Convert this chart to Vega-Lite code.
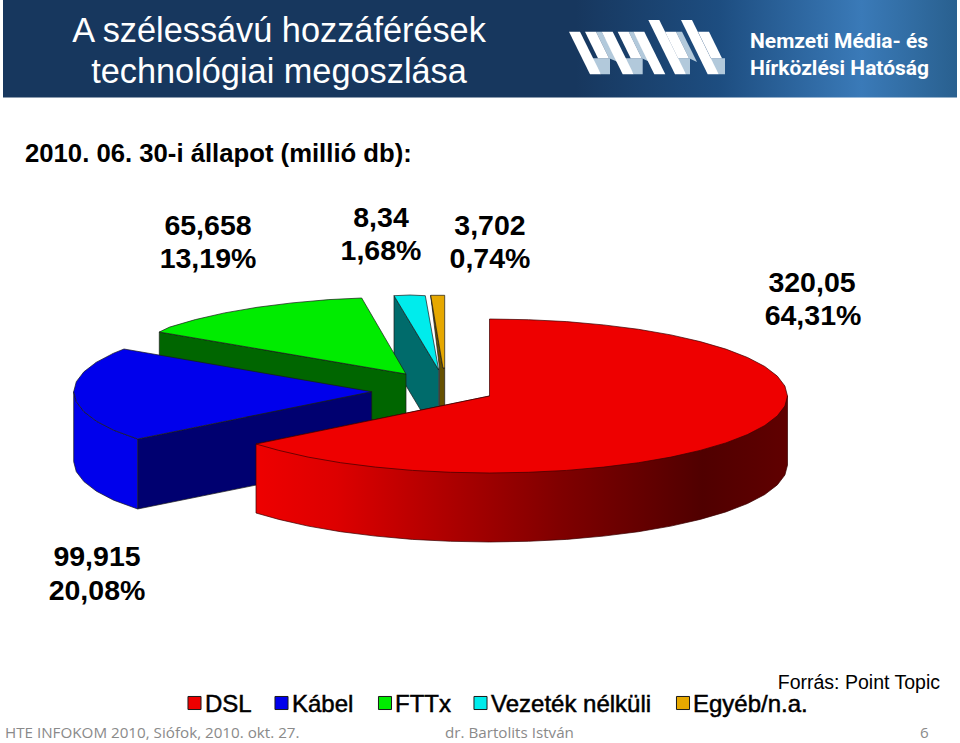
{"$schema":"https://vega.github.io/schema/vega-lite/v6.json","width":960,"height":743,"padding":0,"autosize":"none","background":"#ffffff","view":{"stroke":null},
"resolve":{"scale":{"fill":"independent"}},
"datasets":{
"band":[{"x":3,"x2":957,"y":0,"y2":97.5}],
"labels":[
{"kind":"title","label":"A szélessávú hozzáférések","x":279,"y":41.5},
{"kind":"title","label":"technológiai megoszlása","x":279,"y":83},
{"kind":"date","label":"2010. 06. 30-i állapot (millió db):","x":25,"y":162},
{"kind":"value","label":"65,658","x":208,"y":235},{"kind":"value","label":"13,19%","x":208,"y":268},
{"kind":"value","label":"8,34","x":381,"y":227},{"kind":"value","label":"1,68%","x":381,"y":260},
{"kind":"value","label":"3,702","x":490,"y":235},{"kind":"value","label":"0,74%","x":490,"y":268},
{"kind":"value","label":"320,05","x":812,"y":292},{"kind":"value","label":"64,31%","x":813,"y":325},
{"kind":"value","label":"99,915","x":97,"y":566},{"kind":"value","label":"20,08%","x":97,"y":600},
{"kind":"legend","label":"DSL","x":205,"y":712},{"kind":"legend","label":"Kábel","x":292,"y":712},{"kind":"legend","label":"FTTx","x":395,"y":712},{"kind":"legend","label":"Vezeték nélküli","x":491,"y":712},{"kind":"legend","label":"Egyéb/n.a.","x":693,"y":712},
{"kind":"source","label":"Forrás: Point Topic","x":940,"y":689},
{"kind":"foot","label":"HTE INFOKOM 2010, Siófok, 2010. okt. 27.","x":5,"y":738},
{"kind":"foot","label":"dr. Bartolits István","x":445,"y":738},
{"kind":"foot","label":"6","x":920,"y":738},
{"kind":"org","label":"Nemzeti Média- és","x":750,"y":48},
{"kind":"org","label":"Hírközlési Hatóság","x":750,"y":75}
],
"keys":[{"part":"DSL","x":194.5,"y":703},{"part":"Kábel","x":281.5,"y":703},{"part":"FTTx","x":385,"y":703},{"part":"Vezeték nélküli","x":480.5,"y":703},{"part":"Egyéb/n.a.","x":683,"y":703}],
"logo":[
{"shape":"a1","part":"árnyék","i":0,"x":590,"y":58.3},{"shape":"a1","part":"árnyék","i":1,"x":610,"y":58.3},{"shape":"a1","part":"árnyék","i":2,"x":610,"y":74.3},{"shape":"a1","part":"árnyék","i":3,"x":601,"y":74.3},
{"shape":"a2","part":"árnyék","i":0,"x":622.7,"y":58.3},{"shape":"a2","part":"árnyék","i":1,"x":642.7,"y":58.3},{"shape":"a2","part":"árnyék","i":2,"x":642.7,"y":74.3},{"shape":"a2","part":"árnyék","i":3,"x":633.7,"y":74.3},
{"shape":"a3","part":"árnyék","i":0,"x":668,"y":58.3},{"shape":"a3","part":"árnyék","i":1,"x":690,"y":58.3},{"shape":"a3","part":"árnyék","i":2,"x":690,"y":74.3},{"shape":"a3","part":"árnyék","i":3,"x":686,"y":74.3},
{"shape":"a4","part":"árnyék","i":0,"x":700,"y":58.3},{"shape":"a4","part":"árnyék","i":1,"x":725,"y":58.3},{"shape":"a4","part":"árnyék","i":2,"x":725,"y":74.3},{"shape":"a4","part":"árnyék","i":3,"x":718.7,"y":74.3},
{"shape":"b1","part":"árnyék","i":0,"x":596,"y":31.7},{"shape":"b1","part":"árnyék","i":1,"x":601.7,"y":31.7},{"shape":"b1","part":"árnyék","i":2,"x":618,"y":62},{"shape":"b1","part":"árnyék","i":3,"x":609,"y":58.3},
{"shape":"b2","part":"árnyék","i":0,"x":628.7,"y":31.7},{"shape":"b2","part":"árnyék","i":1,"x":633.3,"y":31.7},{"shape":"b2","part":"árnyék","i":2,"x":650,"y":62},{"shape":"b2","part":"árnyék","i":3,"x":641.7,"y":58.3},
{"shape":"b3","part":"árnyék","i":0,"x":676,"y":31.7},{"shape":"b3","part":"árnyék","i":1,"x":682,"y":31.7},{"shape":"b3","part":"árnyék","i":2,"x":697,"y":62},{"shape":"b3","part":"árnyék","i":3,"x":689,"y":58.3},
{"shape":"s1","part":"fehér","i":0,"x":569,"y":31.7},{"shape":"s1","part":"fehér","i":1,"x":580,"y":31.7},{"shape":"s1","part":"fehér","i":2,"x":601,"y":74.3},{"shape":"s1","part":"fehér","i":3,"x":590,"y":74.3},
{"shape":"s2","part":"fehér","i":0,"x":601.7,"y":31.7},{"shape":"s2","part":"fehér","i":1,"x":612.7,"y":31.7},{"shape":"s2","part":"fehér","i":2,"x":633.7,"y":74.3},{"shape":"s2","part":"fehér","i":3,"x":622.7,"y":74.3},
{"shape":"s3","part":"fehér","i":0,"x":633.3,"y":31.7},{"shape":"s3","part":"fehér","i":1,"x":644.3,"y":31.7},{"shape":"s3","part":"fehér","i":2,"x":665.3,"y":74.3},{"shape":"s3","part":"fehér","i":3,"x":654.3,"y":74.3},
{"shape":"s4","part":"fehér","i":0,"x":648.3,"y":20},{"shape":"s4","part":"fehér","i":1,"x":659.3,"y":20},{"shape":"s4","part":"fehér","i":2,"x":686,"y":74.3},{"shape":"s4","part":"fehér","i":3,"x":675,"y":74.3},
{"shape":"s5","part":"fehér","i":0,"x":681,"y":20},{"shape":"s5","part":"fehér","i":1,"x":692,"y":20},{"shape":"s5","part":"fehér","i":2,"x":718.7,"y":74.3},{"shape":"s5","part":"fehér","i":3,"x":707.7,"y":74.3},
{"shape":"w1","part":"fehér","i":0,"x":585,"y":31.7},{"shape":"w1","part":"fehér","i":1,"x":596,"y":31.7},{"shape":"w1","part":"fehér","i":2,"x":609,"y":58.3},{"shape":"w1","part":"fehér","i":3,"x":598,"y":58.3},
{"shape":"w2","part":"fehér","i":0,"x":617.7,"y":31.7},{"shape":"w2","part":"fehér","i":1,"x":628.7,"y":31.7},{"shape":"w2","part":"fehér","i":2,"x":641.7,"y":58.3},{"shape":"w2","part":"fehér","i":3,"x":630.7,"y":58.3},
{"shape":"w3","part":"fehér","i":0,"x":665,"y":31.7},{"shape":"w3","part":"fehér","i":1,"x":676,"y":31.7},{"shape":"w3","part":"fehér","i":2,"x":689,"y":58.3},{"shape":"w3","part":"fehér","i":3,"x":678,"y":58.3},
{"shape":"w4","part":"fehér","i":0,"x":698,"y":31.7},{"shape":"w4","part":"fehér","i":1,"x":709,"y":31.7},{"shape":"w4","part":"fehér","i":2,"x":722,"y":58.3},{"shape":"w4","part":"fehér","i":3,"x":711,"y":58.3}
],
"pie":[
{"shape":"c-side","part":"Vezeték nélküli oldal","i":0,"x":394,"y":295.7},{"shape":"c-side","part":"Vezeték nélküli oldal","i":1,"x":438.7,"y":370},{"shape":"c-side","part":"Vezeték nélküli oldal","i":2,"x":438.7,"y":440},{"shape":"c-side","part":"Vezeték nélküli oldal","i":3,"x":394,"y":365.7},{"shape":"c-side","part":"Vezeték nélküli oldal","i":4,"x":394,"y":295.7},
{"shape":"c-top","part":"Vezeték nélküli","i":0,"x":394,"y":295.7},{"shape":"c-top","part":"Vezeték nélküli","i":1,"x":410,"y":295},{"shape":"c-top","part":"Vezeték nélküli","i":2,"x":425.3,"y":295.7},{"shape":"c-top","part":"Vezeték nélküli","i":3,"x":438.7,"y":370},{"shape":"c-top","part":"Vezeték nélküli","i":4,"x":394,"y":295.7},
{"shape":"o-side","part":"Egyéb/n.a. oldal","i":0,"x":430.7,"y":295.3},{"shape":"o-side","part":"Egyéb/n.a. oldal","i":1,"x":443,"y":368},{"shape":"o-side","part":"Egyéb/n.a. oldal","i":2,"x":444.7,"y":368},{"shape":"o-side","part":"Egyéb/n.a. oldal","i":3,"x":444.7,"y":420},{"shape":"o-side","part":"Egyéb/n.a. oldal","i":4,"x":439.5,"y":420},{"shape":"o-side","part":"Egyéb/n.a. oldal","i":5,"x":439.5,"y":368},{"shape":"o-side","part":"Egyéb/n.a. oldal","i":6,"x":430.7,"y":295.3},
{"shape":"o-top","part":"Egyéb/n.a.","i":0,"x":430.7,"y":295.3},{"shape":"o-top","part":"Egyéb/n.a.","i":1,"x":444.7,"y":295.3},{"shape":"o-top","part":"Egyéb/n.a.","i":2,"x":444.7,"y":368},{"shape":"o-top","part":"Egyéb/n.a.","i":3,"x":443,"y":368},{"shape":"o-top","part":"Egyéb/n.a.","i":4,"x":430.7,"y":295.3},
{"shape":"g-side","part":"FTTx oldal","i":0,"x":159.3,"y":332},{"shape":"g-side","part":"FTTx oldal","i":1,"x":406,"y":374},{"shape":"g-side","part":"FTTx oldal","i":2,"x":406,"y":444},{"shape":"g-side","part":"FTTx oldal","i":3,"x":159.3,"y":402},{"shape":"g-side","part":"FTTx oldal","i":4,"x":159.3,"y":332},
{"shape":"g-top","part":"FTTx","i":0,"x":406,"y":374},{"shape":"g-top","part":"FTTx","i":1,"x":159.3,"y":332},{"shape":"g-top","part":"FTTx","i":2,"x":169.6,"y":327.1},{"shape":"g-top","part":"FTTx","i":3,"x":195.3,"y":319.6},{"shape":"g-top","part":"FTTx","i":4,"x":224.6,"y":312.9},{"shape":"g-top","part":"FTTx","i":5,"x":257,"y":307.3},{"shape":"g-top","part":"FTTx","i":6,"x":292,"y":302.9},{"shape":"g-top","part":"FTTx","i":7,"x":328.9,"y":299.6},{"shape":"g-top","part":"FTTx","i":8,"x":361.7,"y":298},{"shape":"g-top","part":"FTTx","i":9,"x":406,"y":374},
{"shape":"b-side","part":"Kábel oldal","i":0,"x":137.7,"y":439},{"shape":"b-side","part":"Kábel oldal","i":1,"x":371.7,"y":391.7},{"shape":"b-side","part":"Kábel oldal","i":2,"x":371.7,"y":461.7},{"shape":"b-side","part":"Kábel oldal","i":3,"x":137.7,"y":509},{"shape":"b-side","part":"Kábel oldal","i":4,"x":137.7,"y":439},
{"shape":"b-rim","part":"Kábel","i":0,"x":73.7,"y":391.7},{"shape":"b-rim","part":"Kábel","i":1,"x":73.7,"y":461.7},{"shape":"b-rim","part":"Kábel","i":2,"x":76.3,"y":471.7},{"shape":"b-rim","part":"Kábel","i":3,"x":83.9,"y":481.6},{"shape":"b-rim","part":"Kábel","i":4,"x":96.4,"y":491.2},{"shape":"b-rim","part":"Kábel","i":5,"x":113.6,"y":500.2},{"shape":"b-rim","part":"Kábel","i":6,"x":137.7,"y":509},{"shape":"b-rim","part":"Kábel","i":7,"x":137.7,"y":439},{"shape":"b-rim","part":"Kábel","i":8,"x":113.6,"y":430.2},{"shape":"b-rim","part":"Kábel","i":9,"x":96.4,"y":421.2},{"shape":"b-rim","part":"Kábel","i":10,"x":83.9,"y":411.6},{"shape":"b-rim","part":"Kábel","i":11,"x":76.3,"y":401.7},{"shape":"b-rim","part":"Kábel","i":12,"x":73.7,"y":391.7},
{"shape":"b-top","part":"Kábel","i":0,"x":371.7,"y":391.7},{"shape":"b-top","part":"Kábel","i":1,"x":137.7,"y":439},{"shape":"b-top","part":"Kábel","i":2,"x":113.6,"y":430.2},{"shape":"b-top","part":"Kábel","i":3,"x":96.4,"y":421.2},{"shape":"b-top","part":"Kábel","i":4,"x":83.9,"y":411.6},{"shape":"b-top","part":"Kábel","i":5,"x":76.3,"y":401.7},{"shape":"b-top","part":"Kábel","i":6,"x":73.7,"y":391.7},{"shape":"b-top","part":"Kábel","i":7,"x":76.3,"y":381.7},{"shape":"b-top","part":"Kábel","i":8,"x":83.9,"y":371.8},{"shape":"b-top","part":"Kábel","i":9,"x":96.4,"y":362.2},{"shape":"b-top","part":"Kábel","i":10,"x":113.6,"y":353.2},{"shape":"b-top","part":"Kábel","i":11,"x":124,"y":349},{"shape":"b-top","part":"Kábel","i":12,"x":371.7,"y":391.7}
],
"redside":[
{"i":0,"x":787.5,"y":396},{"i":1,"x":787.5,"y":465},{"i":2,"x":784.9,"y":475},{"i":3,"x":777.3,"y":484.9},{"i":4,"x":764.8,"y":494.5},{"i":5,"x":747.6,"y":503.5},{"i":6,"x":725.9,"y":511.9},{"i":7,"x":700.2,"y":519.4},{"i":8,"x":670.9,"y":526.1},{"i":9,"x":638.5,"y":531.7},{"i":10,"x":603.5,"y":536.1},{"i":11,"x":566.6,"y":539.4},{"i":12,"x":528.4,"y":541.3},{"i":13,"x":489.5,"y":542},{"i":14,"x":450.6,"y":541.3},{"i":15,"x":412.4,"y":539.4},{"i":16,"x":375.5,"y":536.1},{"i":17,"x":340.5,"y":531.7},{"i":18,"x":308.1,"y":526.1},{"i":19,"x":278.8,"y":519.4},{"i":20,"x":256,"y":513},{"i":21,"x":256,"y":444},{"i":22,"x":489.5,"y":396},{"i":23,"x":787.5,"y":396}
],
"redtop":[
{"i":0,"x":489.5,"y":396},{"i":1,"x":489.5,"y":319},{"i":2,"x":528.4,"y":319.7},{"i":3,"x":566.6,"y":321.6},{"i":4,"x":603.5,"y":324.9},{"i":5,"x":638.5,"y":329.3},{"i":6,"x":670.9,"y":334.9},{"i":7,"x":700.2,"y":341.6},{"i":8,"x":725.9,"y":349.1},{"i":9,"x":747.6,"y":357.5},{"i":10,"x":764.8,"y":366.5},{"i":11,"x":777.3,"y":376.1},{"i":12,"x":784.9,"y":386},{"i":13,"x":787.5,"y":396},{"i":14,"x":784.9,"y":406},{"i":15,"x":777.3,"y":415.9},{"i":16,"x":764.8,"y":425.5},{"i":17,"x":747.6,"y":434.5},{"i":18,"x":725.9,"y":442.9},{"i":19,"x":700.2,"y":450.4},{"i":20,"x":670.9,"y":457.1},{"i":21,"x":638.5,"y":462.7},{"i":22,"x":603.5,"y":467.1},{"i":23,"x":566.6,"y":470.4},{"i":24,"x":528.4,"y":472.3},{"i":25,"x":489.5,"y":473},{"i":26,"x":450.6,"y":472.3},{"i":27,"x":412.4,"y":470.4},{"i":28,"x":375.5,"y":467.1},{"i":29,"x":340.5,"y":462.7},{"i":30,"x":308.1,"y":457.1},{"i":31,"x":278.8,"y":450.4},{"i":32,"x":256,"y":444},{"i":33,"x":489.5,"y":396}
]
},
"encoding":{"x":{"field":"x","type":"quantitative","axis":null,"scale":{"domain":[0,960],"nice":false,"zero":false}},"y":{"field":"y","type":"quantitative","axis":null,"scale":{"domain":[743,0],"nice":false,"zero":false}}},
"layer":[
{"data":{"name":"band"},"mark":{"type":"rect","fill":{"gradient":"linear","x1":0,"x2":1,"y1":0,"y2":0,"stops":[{"offset":0,"color":"#17375e"},{"offset":0.6,"color":"#17375e"},{"offset":0.75,"color":"#1d4d80"},{"offset":0.9,"color":"#3a7ab8"},{"offset":1,"color":"#29608f"}]}},"encoding":{"x2":{"field":"x2"},"y2":{"field":"y2"}}},
{"data":{"name":"logo"},"mark":{"type":"line","strokeWidth":0},"encoding":{"order":{"field":"i"},"detail":{"field":"shape"},"fill":{"field":"part","legend":null,"scale":{"domain":["fehér","árnyék"],"range":["#ffffff","#b2c9db"]}}}},
{"data":{"name":"pie"},"mark":{"type":"line","stroke":"#1a1a1a","strokeWidth":0.7,"strokeJoin":"round"},"encoding":{"order":{"field":"i"},"detail":{"field":"shape"},"fill":{"field":"part","legend":null,"scale":{"domain":["Kábel","Kábel oldal","FTTx","FTTx oldal","Vezeték nélküli","Vezeték nélküli oldal","Egyéb/n.a.","Egyéb/n.a. oldal"],"range":["#0000ec","#000070","#00ec00","#006600","#00ecec","#006b6b","#e6a800","#665000"]}}}},
{"data":{"name":"redside"},"mark":{"type":"line","stroke":"#3a0000","strokeWidth":0.7,"fill":{"gradient":"linear","x1":0,"x2":1,"y1":0,"y2":0,"stops":[{"offset":0,"color":"#ee0000"},{"offset":0.15,"color":"#dd0000"},{"offset":0.35,"color":"#b00000"},{"offset":0.57,"color":"#800000"},{"offset":0.84,"color":"#500000"},{"offset":1,"color":"#600000"}]}},"encoding":{"order":{"field":"i"}}},
{"data":{"name":"redtop"},"mark":{"type":"line","stroke":"#3a0000","strokeWidth":0.7,"fill":"#ee0000"},"encoding":{"order":{"field":"i"}}},
{"data":{"name":"keys"},"mark":{"type":"point","shape":"square","filled":true,"size":170,"stroke":"#1a1a1a","strokeWidth":1,"opacity":1},"encoding":{"fill":{"field":"part","legend":null,"scale":{"domain":["DSL","Kábel","FTTx","Vezeték nélküli","Egyéb/n.a."],"range":["#ee0000","#0000ec","#00ec00","#00ecec","#e6a800"]}}}},
{"data":{"name":"labels"},"transform":[{"filter":"datum.kind=='title'"}],"mark":{"type":"text","font":"Liberation Sans","fontSize":34.3,"fill":"#ffffff","align":"center","baseline":"alphabetic"},"encoding":{"text":{"field":"label"}}},
{"data":{"name":"labels"},"transform":[{"filter":"datum.kind=='date'"}],"mark":{"type":"text","font":"Liberation Sans","fontWeight":"bold","fontSize":25.7,"fill":"#000000","align":"left","baseline":"alphabetic"},"encoding":{"text":{"field":"label"}}},
{"data":{"name":"labels"},"transform":[{"filter":"datum.kind=='value'"}],"mark":{"type":"text","font":"Liberation Sans","fontWeight":"bold","fontSize":28.5,"fill":"#000000","align":"center","baseline":"alphabetic"},"encoding":{"text":{"field":"label"}}},
{"data":{"name":"labels"},"transform":[{"filter":"datum.kind=='legend'"}],"mark":{"type":"text","font":"Liberation Sans","fontSize":24,"fill":"#000000","stroke":"#000000","strokeWidth":0.5,"align":"left","baseline":"alphabetic"},"encoding":{"text":{"field":"label"}}},
{"data":{"name":"labels"},"transform":[{"filter":"datum.kind=='source'"}],"mark":{"type":"text","font":"Liberation Sans","fontSize":19.5,"fill":"#000000","align":"right","baseline":"alphabetic"},"encoding":{"text":{"field":"label"}}},
{"data":{"name":"labels"},"transform":[{"filter":"datum.kind=='foot'"}],"mark":{"type":"text","font":"Open Sans","fontSize":15.2,"fill":"#8a8a8a","align":"left","baseline":"alphabetic"},"encoding":{"text":{"field":"label"}}},
{"data":{"name":"labels"},"transform":[{"filter":"datum.kind=='org'"}],"mark":{"type":"text","font":"Roboto","fontWeight":"bold","fontSize":21,"fill":"#ffffff","align":"left","baseline":"alphabetic"},"encoding":{"text":{"field":"label"}}}
]}
